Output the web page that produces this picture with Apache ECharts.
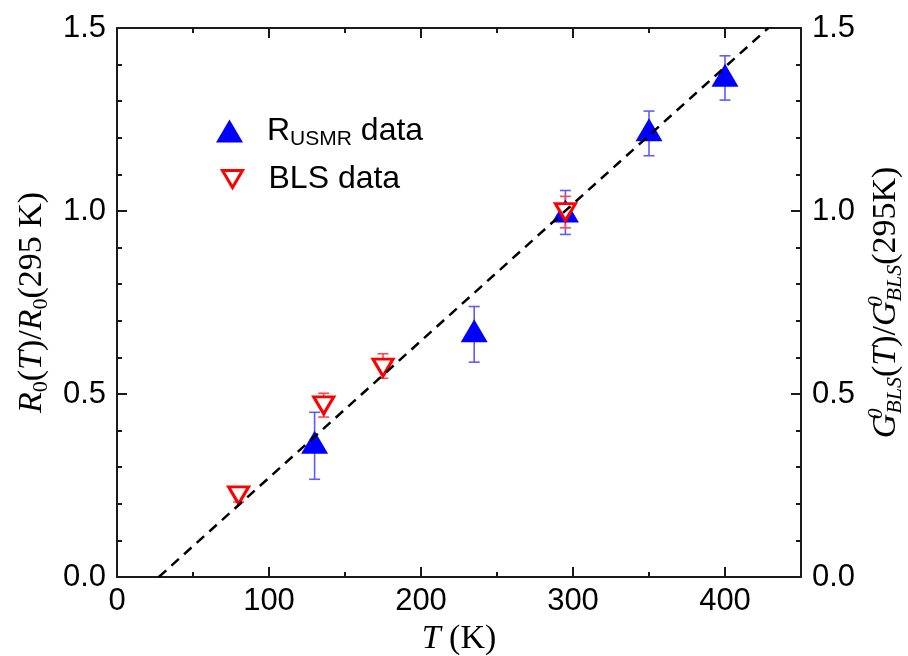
<!DOCTYPE html>
<html><head><meta charset="utf-8">
<script src="https://cdn.jsdelivr.net/npm/echarts@6/dist/echarts.min.js"></script>
<style>html,body{margin:0;padding:0;background:#fff}#c{width:908px;height:656px}</style>
</head><body><div id="c"></div>
<script>
// ---- data ----
const usmrT  = [130, 235, 295, 350, 400];
const usmrY  = [0.368, 0.673, 1.000, 1.222, 1.371];
const usmrLo = [0.267, 0.587, 0.936, 1.151, 1.303];
const usmrHi = [0.450, 0.739, 1.056, 1.273, 1.424];
const blsT   = [80, 136, 175, 295];
const blsY   = [0.223, 0.469, 0.572, 0.997];
const blsLo  = [0.205, 0.437, 0.543, 0.954];
const blsHi  = [0.246, 0.502, 0.610, 1.040];
const fitT   = [27.5, 428.5];
const fitY   = [0.0, 1.5];
const xRange = [0, 450];
const yRange = [0, 1.5];

const zip2 = (a, b) => a.map((v, i) => [v, b[i]]);
const zip3 = (a, b, c) => a.map((v, i) => [v, b[i], c[i]]);

function errBar(color, cap) {
  return function (params, api) {
    const x = api.value(0), lo = api.value(1), hi = api.value(2);
    const pLo = api.coord([x, lo]), pHi = api.coord([x, hi]);
    const st = { stroke: color, lineWidth: 1.6 };
    return { type: 'group', children: [
      { type: 'line', shape: { x1: pLo[0], y1: pLo[1], x2: pHi[0], y2: pHi[1] }, style: st },
      { type: 'line', shape: { x1: pLo[0] - cap, y1: pLo[1], x2: pLo[0] + cap, y2: pLo[1] }, style: st },
      { type: 'line', shape: { x1: pHi[0] - cap, y1: pHi[1], x2: pHi[0] + cap, y2: pHi[1] }, style: st }
    ]};
  };
}

const SANS = 'Liberation Sans';
const SERIF = 'Liberation Serif';
const axisCol = '#1a1a1a';
const DOWN_TRI = 'path://M0,0L20,0L10,17Z';
const serifRich = {
  n:   { fontFamily: SERIF, fontSize: 34, lineHeight: 40, color: '#000' },
  i:   { fontFamily: SERIF, fontSize: 34, lineHeight: 40, fontStyle: 'italic', color: '#000' },
  sub: { fontFamily: SERIF, fontSize: 22, lineHeight: 22, verticalAlign: 'bottom', color: '#000' },
  isub:{ fontFamily: SERIF, fontSize: 22, lineHeight: 22, verticalAlign: 'bottom', fontStyle: 'italic', color: '#000' },
  sup: { fontFamily: SERIF, fontSize: 21, lineHeight: 21, verticalAlign: 'top', fontStyle: 'italic', width: 0, color: '#000' }
};

function xAx(pos, interval, major, labels) {
  return {
    type: 'value', position: pos, min: xRange[0], max: xRange[1], interval: interval,
    axisLine: { show: major, onZero: false, lineStyle: { color: axisCol, width: 2 } },
    axisTick: { show: true, inside: true, length: major ? 10 : 5, lineStyle: { color: axisCol, width: 2 } },
    axisLabel: { show: labels, showMaxLabel: false, fontFamily: SANS, fontSize: 31, color: '#000', margin: 9 },
    splitLine: { show: false }
  };
}
function yAx(pos) {
  return {
    type: 'value', position: pos, min: yRange[0], max: yRange[1], interval: 0.5,
    axisLine: { show: true, onZero: false, lineStyle: { color: axisCol, width: 2 } },
    axisTick: { show: true, inside: true, length: 10, lineStyle: { color: axisCol, width: 2 } },
    minorTick: { show: true, splitNumber: 5, length: 5, lineStyle: { color: axisCol, width: 2 } },
    axisLabel: { fontFamily: SANS, fontSize: 31, color: '#000', margin: 11, formatter: v => v.toFixed(1) },
    splitLine: { show: false }
  };
}

const xBottom = xAx('bottom', 100, true, true);
xBottom.name = '{i|T}{n| (K)}';
xBottom.nameLocation = 'middle';
xBottom.nameGap = 36;
xBottom.nameTextStyle = { rich: serifRich };

const yLeft = yAx('left');
yLeft.name = '{i|R}{sub|0}{n|(}{i|T}{n|)/}{i|R}{sub|0}{n|(295 K)}';
yLeft.nameLocation = 'middle'; yLeft.nameRotate = 90; yLeft.nameGap = 65;
yLeft.nameTextStyle = { rich: serifRich };

const yRight = yAx('right');
yRight.name = '{i|G}{sup|0}{isub|BLS}{n|(}{i|T}{n|)/}{i|G}{sup|0}{isub|BLS}{n|(295K)}';
yRight.nameLocation = 'middle'; yRight.nameRotate = 90; yRight.nameGap = 61;
yRight.nameTextStyle = { rich: serifRich };

const legendRich = {
  a: { fontFamily: SANS, fontSize: 32, lineHeight: 38, color: '#000' },
  p: { fontFamily: SANS, fontSize: 32, lineHeight: 38, color: '#000', padding: [0, 0, 0, 19] },
  q: { fontFamily: SANS, fontSize: 32, lineHeight: 38, color: '#000', padding: [0, 0, 0, 21] },
  s: { fontFamily: SANS, fontSize: 21, lineHeight: 21, verticalAlign: 'bottom', color: '#000' }
};

const option = {
  animation: false,
  backgroundColor: '#fff',
  grid: { left: 117, right: 107, top: 28, bottom: 79, containLabel: false, outerBoundsMode: 'none' },
  xAxis: [xBottom, xAx('bottom', 50, false, false), xAx('top', 100, true, false), xAx('top', 50, false, false)],
  yAxis: [yLeft, yRight],
  legend: [
    { data: ['usmr'], left: 211, top: 110, itemWidth: 27, itemHeight: 23, selectedMode: false,
      formatter: () => '{p|R}{s|USMR}{a| data}', textStyle: { rich: legendRich } },
    { data: [{ name: 'bls', icon: DOWN_TRI, itemStyle: { borderWidth: 3, borderColor: '#ff0000', color: '#ffffff' } }],
      left: 216, top: 158, itemWidth: 20, itemHeight: 17, selectedMode: false,
      formatter: () => '{q|BLS data}', textStyle: { rich: legendRich } }
  ],
  series: [
    { name: 'usmrErr', type: 'custom', xAxisIndex: 0, yAxisIndex: 0, renderItem: errBar('#5c5cff', 5.5),
      data: zip3(usmrT, usmrLo, usmrHi), encode: { x: 0, y: [1, 2] }, z: 2, silent: true },
    { name: 'blsErr', type: 'custom', xAxisIndex: 0, yAxisIndex: 0, renderItem: errBar('#ff4a4a', 5.5),
      data: zip3(blsT, blsLo, blsHi), encode: { x: 0, y: [1, 2] }, z: 2, silent: true },
    { name: 'usmr', type: 'scatter', xAxisIndex: 0, yAxisIndex: 0, data: zip2(usmrT, usmrY),
      symbol: 'triangle', symbolSize: [27, 23], itemStyle: { color: '#0000ff', opacity: 1 }, z: 3 },
    { name: 'bls', type: 'scatter', xAxisIndex: 0, yAxisIndex: 0, data: zip2(blsT, blsY),
      symbol: DOWN_TRI, symbolSize: [20, 17],
      itemStyle: { color: '#ffffff', borderColor: '#ff0000', borderWidth: 3, opacity: 1 }, z: 4 },
    { name: 'fit', type: 'line', xAxisIndex: 0, yAxisIndex: 0, data: zip2(fitT, fitY), showSymbol: false,
      lineStyle: { color: '#000', width: 2.5, type: [10, 7] }, z: 5, silent: true }
  ]
};
const chart = echarts.init(document.getElementById('c'), null, { renderer: 'canvas' });
chart.setOption(option);
</script>
</body></html>
